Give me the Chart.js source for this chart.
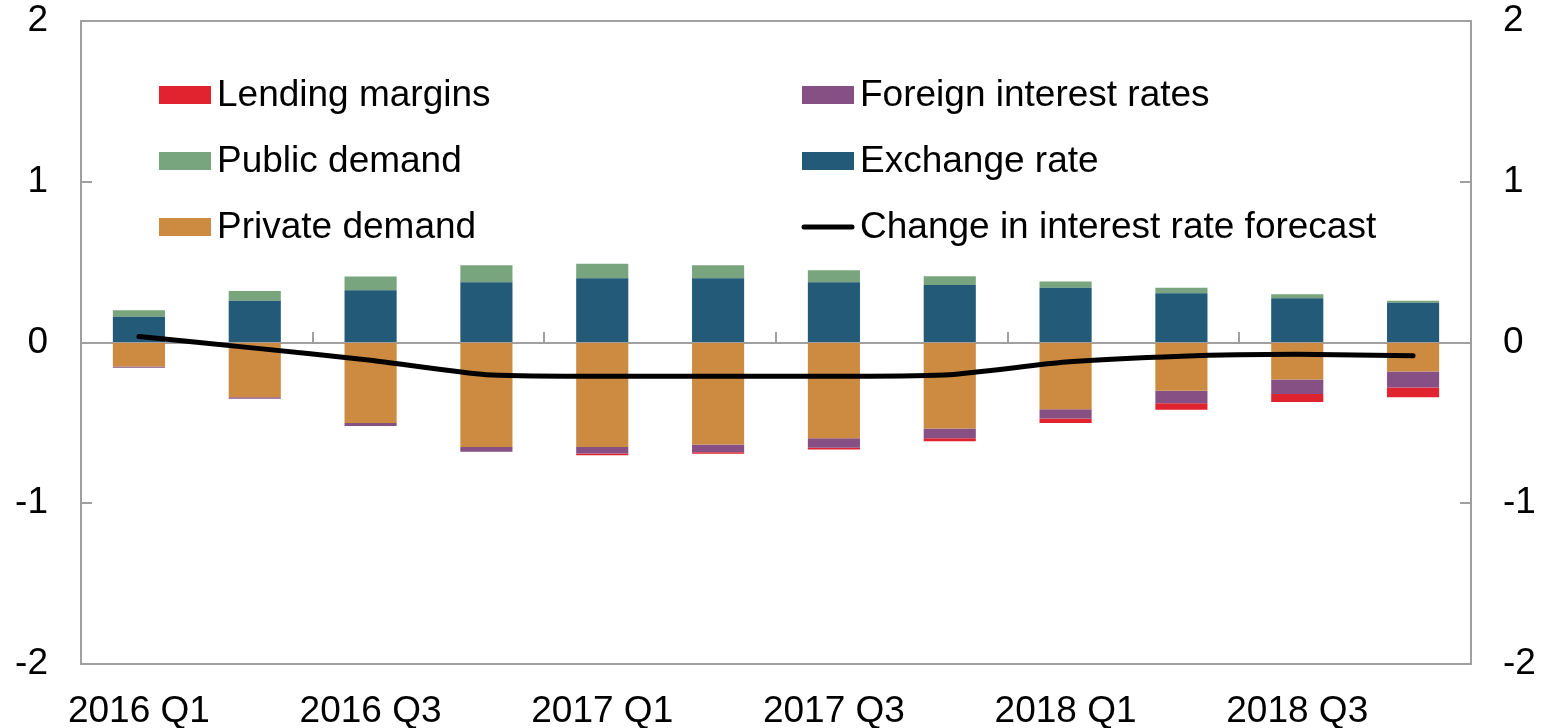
<!DOCTYPE html>
<html lang="en">
<head>
<meta charset="UTF-8">
<title>Interest rate forecast decomposition</title>
<script src="https://cdn.jsdelivr.net/npm/chart.js"></script>
<style>
  html, body { margin: 0; padding: 0; background: #fff; }
  #wrap { width: 1546px; height: 728px; }
</style>
</head>
<body>
<div id="wrap"><canvas id="chart" width="1546" height="728"></canvas></div>
<script>
// quarters on the x axis
const quarters = ['2016 Q1', '2016 Q2', '2016 Q3', '2016 Q4', '2017 Q1', '2017 Q2',
                  '2017 Q3', '2017 Q4', '2018 Q1', '2018 Q2', '2018 Q3', '2018 Q4'];

// contributions (percentage points)
const lendingMargins = [0, 0, 0, 0, -0.012, -0.01, -0.01, -0.02, -0.027, -0.04, -0.05, -0.06];
const foreignRates   = [-0.007, -0.01, -0.02, -0.03, -0.04, -0.047, -0.06, -0.06, -0.058, -0.078, -0.09, -0.10];
const publicDemand   = [0.04, 0.06, 0.085, 0.105, 0.09, 0.08, 0.075, 0.055, 0.04, 0.033, 0.024, 0.012];
const exchangeRate   = [0.16, 0.26, 0.325, 0.375, 0.40, 0.40, 0.375, 0.357, 0.34, 0.307, 0.276, 0.247];
const privateDemand  = [-0.15, -0.34, -0.50, -0.65, -0.65, -0.635, -0.595, -0.535, -0.415, -0.30, -0.23, -0.18];
const forecastChange = [0.037, -0.035, -0.11, -0.2, -0.21, -0.21, -0.21, -0.2, -0.122, -0.085, -0.073, -0.083];

// y axis ticks
const yTicks = [-2, -1, 0, 1, 2];

const colors = {
    lending: '#E0232E',
    foreign: '#865084',
    public: '#78A57D',
    exchange: '#235A78',
    private: '#CD8B41',
    line: '#000000'
};

const FONT = "'Liberation Sans', Arial, sans-serif";
const AXIS_GREY = '#A0A0A0';

function bar(label, data, color) {
    return {
        type: 'bar', label: label, data: data, backgroundColor: color,
        borderWidth: 0, stack: 'bars', order: 2,
        barPercentage: 0.45, categoryPercentage: 1.0
    };
}

// frame, zero line and inward ticks
const framePlugin = {
    id: 'frame',
    beforeDatasetsDraw(chart) {
        const { ctx, chartArea: a, scales } = chart;
        const y = scales.y, x = scales.x;
        ctx.save();
        ctx.strokeStyle = AXIS_GREY;
        ctx.lineWidth = 2;
        ctx.strokeRect(a.left, a.top, a.right - a.left, a.bottom - a.top);
        // y ticks pointing in
        yTicks.forEach(v => {
            const py = Math.round(y.getPixelForValue(v));
            ctx.beginPath();
            ctx.moveTo(a.left, py); ctx.lineTo(a.left + 11, py);
            ctx.moveTo(a.right, py); ctx.lineTo(a.right - 11, py);
            ctx.stroke();
        });
        // zero line with tick every two quarters
        const y0 = Math.round(y.getPixelForValue(0));
        ctx.beginPath();
        ctx.moveTo(a.left, y0); ctx.lineTo(a.right, y0);
        for (let i = 2; i < quarters.length; i += 2) {
            const px = Math.round((x.getPixelForValue(i - 1) + x.getPixelForValue(i)) / 2);
            ctx.moveTo(px, y0); ctx.lineTo(px, y0 - 11);
        }
        ctx.stroke();
        ctx.restore();
    }
};

// legend drawn inside the plot, two columns
const legendPlugin = {
    id: 'innerLegend',
    afterDraw(chart) {
        const ctx = chart.ctx;
        const items = [
            { text: 'Lending margins', color: colors.lending, x: 159, row: 0 },
            { text: 'Public demand', color: colors.public, x: 159, row: 1 },
            { text: 'Private demand', color: colors.private, x: 159, row: 2 },
            { text: 'Foreign interest rates', color: colors.foreign, x: 802, row: 0 },
            { text: 'Exchange rate', color: colors.exchange, x: 802, row: 1 },
            { text: 'Change in interest rate forecast', color: colors.line, x: 802, row: 2, line: true }
        ];
        const w = 52;
        ctx.save();
        ctx.font = '37px ' + FONT;
        ctx.textBaseline = 'middle';
        items.forEach(it => {
            const cy = 95 + it.row * 66;
            if (it.line) {
                ctx.strokeStyle = it.color;
                ctx.lineWidth = 5;
                ctx.lineCap = 'round';
                ctx.beginPath();
                ctx.moveTo(it.x + 2, cy); ctx.lineTo(it.x + w - 2, cy);
                ctx.stroke();
            } else {
                ctx.fillStyle = it.color;
                ctx.fillRect(it.x, cy - 9, w, 18);
            }
            ctx.fillStyle = '#000';
            ctx.fillText(it.text, it.x + w + 6, cy + 1);
        });
        ctx.restore();
    }
};

const tickFont = { family: FONT, size: 37 };

// keep tick padding from pushing the plot area down
function noVPad(s) { s.paddingTop = 0; s.paddingBottom = 0; }

new Chart(document.getElementById('chart').getContext('2d'), {
    data: {
        labels: quarters,
        datasets: [
            {
                type: 'line', label: 'Change in interest rate forecast', data: forecastChange,
                borderColor: colors.line, borderWidth: 5, pointRadius: 0, tension: 0.2,
                borderCapStyle: 'round', borderJoinStyle: 'round', fill: false,
                stack: 'line', order: 0
            },
            bar('Private demand', privateDemand, colors.private),
            bar('Exchange rate', exchangeRate, colors.exchange),
            bar('Public demand', publicDemand, colors.public),
            bar('Foreign interest rates', foreignRates, colors.foreign),
            bar('Lending margins', lendingMargins, colors.lending)
        ]
    },
    options: {
        responsive: false,
        animation: false,
        layout: { padding: { top: 21, bottom: 0, left: 0, right: 0 } },
        plugins: { legend: { display: false }, tooltip: { enabled: false } },
        scales: {
            x: {
                stacked: true,
                grid: { display: true, drawOnChartArea: false, drawTicks: false },
                border: { display: false },
                ticks: {
                    autoSkip: false, maxRotation: 0, padding: 26, color: '#000', font: tickFont,
                    callback: (v, i) => (i % 2 === 0 ? quarters[i] : '')
                },
                afterFit: s => { s.height = 64; s.paddingLeft = 0; s.paddingRight = 0; }
            },
            y: {
                position: 'left', stacked: true, min: -2, max: 2,
                grid: { display: true, drawOnChartArea: false, drawTicks: false },
                border: { display: false },
                ticks: { stepSize: 1, padding: 33, color: '#000', font: tickFont },
                afterFit: s => { s.width = 81; noVPad(s); }
            },
            y2: {
                position: 'right', min: -2, max: 2,
                grid: { display: true, drawOnChartArea: false, drawTicks: false },
                border: { display: false },
                ticks: { stepSize: 1, padding: 32, color: '#000', font: tickFont },
                afterFit: s => { s.width = 75; noVPad(s); }
            }
        }
    },
    plugins: [framePlugin, legendPlugin]
});
</script>
</body>
</html>
